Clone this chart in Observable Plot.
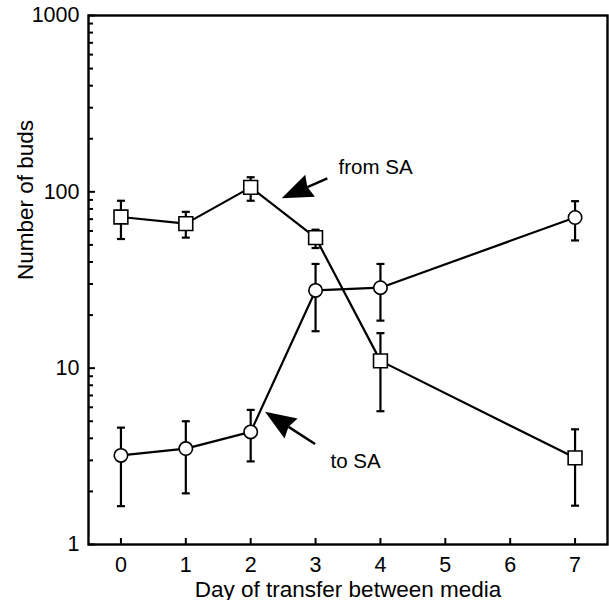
<!DOCTYPE html>
<html>
<head>
<meta charset="utf-8">
<script src="https://cdn.jsdelivr.net/npm/d3@7"></script>
<script src="https://cdn.jsdelivr.net/npm/@observablehq/plot@0.6"></script>
<style>
  html, body { margin: 0; padding: 0; background: #fff; }
  #chart { width: 609px; height: 600px; }
</style>
</head>
<body>
<div id="chart"></div>
<script>
// ---- data ----
const days = [0, 1, 2, 3, 4, 7];
const fromSA = [72, 66, 106, 55, 11, 3.1];
const fromSAHigh = [89, 77, 121, 61, 15.8, 4.5];
const fromSALow = [54, 55, 89, 48, 5.7, 1.66];
const toSA = [3.2, 3.5, 4.35, 27.6, 28.6, 71.5];
const toSAHigh = [4.6, 5.0, 5.8, 39, 39, 88.5];
const toSALow = [1.65, 1.95, 2.96, 16.2, 18.6, 53];

const xTicks = [0, 1, 2, 3, 4, 5, 6, 7];
const yMajor = [1, 10, 100, 1000];
const yMinor = [2, 3, 4, 5, 6, 7, 8, 9, 20, 30, 40, 50, 60, 70, 80, 90, 200, 300, 400, 500, 600, 700, 800, 900];

const xLabel = "Day of transfer between media";
const yLabel = "Number of buds";

const labels = [
  {x: 3.354, y: 137.4, text: "from SA"},
  {x: 3.23, y: 2.96, text: "to SA"}
];
const arrows = [
  {x1: 3.189, y1: 118.6, x2: 2.486, y2: 91.3},
  {x1: 3.0, y1: 3.69, x2: 2.229, y2: 5.63}
];

// ---- table ----
const fromData = days.map((d, i) => ({day: d, v: fromSA[i], hi: fromSAHigh[i], lo: fromSALow[i]}));
const toData = days.map((d, i) => ({day: d, v: toSA[i], hi: toSAHigh[i], lo: toSALow[i]}));

// ---- layout ----
const W = 609, H = 600;
const mL = 88, mR = 2, mT = 15, mB = 56;
const frameW = W - mL - mR, frameH = H - mT - mB;

const capSymbol = {
  draw(context, size) {
    const w = Math.sqrt(size / Math.PI);
    context.moveTo(-w, 0);
    context.lineTo(w, 0);
  }
};

function arrowMark(index, scales) {
  const g = d3.create("svg:g");
  for (const a of arrows) {
    const x1 = scales.x(a.x1), y1 = scales.y(a.y1), x2 = scales.x(a.x2), y2 = scales.y(a.y2);
    const ang = Math.atan2(y2 - y1, x2 - x1);
    const c = Math.cos(ang), s = Math.sin(ang);
    const L = 31, Wd = 12, N = 28;
    const bx = x2 - L * c, by = y2 - L * s;
    const nx = x2 - N * c, ny = y2 - N * s;
    const px = -s * Wd, py = c * Wd;
    g.append("line")
      .attr("x1", x1).attr("y1", y1).attr("x2", nx).attr("y2", ny)
      .attr("stroke", "black").attr("stroke-width", 2.5);
    g.append("path")
      .attr("d", `M${x2},${y2}L${bx + px},${by + py}L${nx},${ny}L${bx - px},${by - py}Z`)
      .attr("fill", "black");
  }
  return g.node();
}

const errMarks = (data) => [
  Plot.ruleX(data, {x: "day", y1: "lo", y2: "hi", stroke: "black", strokeWidth: 2.2}),
  Plot.dot(data, {x: "day", y: "hi", symbol: capSymbol, r: 4, fill: "none", stroke: "black", strokeWidth: 2.2}),
  Plot.dot(data, {x: "day", y: "lo", symbol: capSymbol, r: 4, fill: "none", stroke: "black", strokeWidth: 2.2})
];

const chart = Plot.plot({
  width: W,
  height: H,
  marginLeft: mL,
  marginRight: mR,
  marginTop: mT,
  marginBottom: mB,
  style: {fontFamily: "'Liberation Sans', Arial, Helvetica, sans-serif", fontSize: "21px", color: "black", background: "white"},
  x: {domain: [-0.5, 7.5]},
  y: {type: "log", domain: [1, 1000]},
  marks: [
    Plot.axisX({ticks: xTicks, tickFormat: d => String(d), tickSize: 0, tickPadding: 12, label: null, fontSize: 21.5}),
    Plot.axisY({ticks: yMajor, tickFormat: d => String(d), tickSize: 0, tickPadding: 9, label: null, fontSize: 21.5}),
    Plot.tickY(yMajor, {y: d => d, insetRight: frameW - 7, stroke: "black", strokeWidth: 2}),
    Plot.tickY(yMinor, {y: d => d, insetRight: frameW - 5, stroke: "black", strokeWidth: 2}),
    Plot.tickX(xTicks, {x: d => d, insetTop: frameH - 6, stroke: "black", strokeWidth: 2}),
    Plot.line(fromData, {x: "day", y: "v", stroke: "black", strokeWidth: 2.2}),
    Plot.line(toData, {x: "day", y: "v", stroke: "black", strokeWidth: 2.2}),
    ...errMarks(fromData),
    ...errMarks(toData),
    Plot.dot(fromData, {x: "day", y: "v", symbol: "square", r: 7.8, fill: "white", stroke: "black", strokeWidth: 1.6}),
    Plot.dot(toData, {x: "day", y: "v", symbol: "circle", r: 6.7, fill: "white", stroke: "black", strokeWidth: 1.6}),
    Plot.text(labels, {x: "x", y: "y", text: "text", textAnchor: "start", fontSize: 20.5, fill: "black"}),
    arrowMark,
    Plot.text([xLabel], {frameAnchor: "bottom", dy: 52, fontSize: 22.5, fill: "black"}),
    Plot.text([yLabel], {frameAnchor: "left", dx: -63, rotate: -90, fontSize: 22.5, fill: "black"}),
    Plot.frame({stroke: "black", strokeWidth: 2.4})
  ]
});

document.getElementById("chart").appendChild(chart);
</script>
</body>
</html>
